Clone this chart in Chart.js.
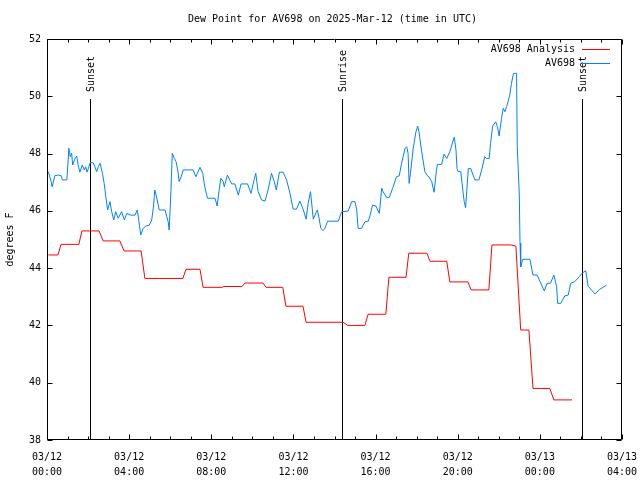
<!DOCTYPE html>
<html>
<head>
<meta charset="utf-8">
<script src="https://cdn.jsdelivr.net/npm/chart.js@4/dist/chart.umd.min.js"></script>
<style>
  body { margin: 0; background: #fff; }
  #wrap { width: 640px; height: 480px; }
</style>
</head>
<body>
<div id="wrap"><canvas id="dewChart"></canvas></div>
<script>
// times are minutes after 2025-03-12 00:00 UTC
var analysisMinutes = [4, 32, 41, 93, 102, 152, 164, 213, 225, 275,
  286, 397, 406, 447, 456, 511, 517, 570, 578, 631,
  640, 689, 698, 748, 757, 865, 879, 929, 938, 990,
  999, 1049, 1057, 1110, 1119, 1168, 1177, 1230, 1239, 1291,
  1300, 1355, 1370, 1384, 1408, 1420, 1469, 1481, 1534];
var analysisValues = [44.46, 44.46, 44.83, 44.83, 45.30, 45.30, 44.95, 44.95, 44.60, 44.60,
  43.64, 43.64, 43.96, 43.96, 43.33, 43.33, 43.36, 43.36, 43.48, 43.48,
  43.33, 43.33, 42.67, 42.67, 42.11, 42.11, 42.00, 42.00, 42.39, 42.39,
  43.68, 43.68, 44.52, 44.52, 44.24, 44.24, 43.52, 43.52, 43.24, 43.24,
  44.81, 44.81, 44.77, 41.84, 41.84, 39.80, 39.80, 39.40, 39.40];

var obsMinutes = [4, 12, 15, 23, 33, 41, 45, 58, 59, 64,
  68, 72, 75, 82, 87, 91, 96, 103, 109, 113,
  117, 121, 126, 135, 140, 145, 150, 155, 162, 167,
  172, 177, 181, 184, 189, 195, 201, 208, 218, 226,
  233, 245, 257, 264, 270, 274, 281, 289, 299, 306,
  311, 315, 320, 325, 328, 345, 350, 354, 357, 362,
  366, 372, 377, 382, 386, 392, 398, 427, 435, 447,
  455, 461, 469, 491, 497, 503, 508, 515, 518, 527,
  535, 540, 549, 559, 567, 586, 596, 605, 610, 617,
  627, 637, 646, 656, 664, 670, 679, 690, 700, 710,
  719, 729, 739, 749, 757, 763, 770, 778, 786, 790,
  795, 800, 807, 812, 820, 851, 861, 880, 890, 900,
  905, 909, 919, 929, 939, 944, 951, 961, 971, 978,
  982, 992, 1000, 1010, 1021, 1029, 1036, 1046, 1051, 1055,
  1058, 1062, 1070, 1078, 1083, 1087, 1094, 1104, 1112, 1116,
  1124, 1131, 1138, 1141, 1153, 1160, 1168, 1177, 1187, 1190,
  1195, 1198, 1201, 1209, 1216, 1219, 1223, 1227, 1231, 1238,
  1250, 1262, 1270, 1279, 1284, 1292, 1296, 1302, 1311, 1316,
  1321, 1328, 1333, 1338, 1343, 1347, 1352, 1357, 1363, 1372,
  1374, 1380, 1382, 1384, 1390, 1411, 1420, 1432, 1453, 1461,
  1471, 1481, 1489, 1492, 1501, 1513, 1523, 1530, 1542, 1555,
  1565, 1574, 1581, 1601, 1615, 1635];
var obsValues = [47.37, 47.02, 46.84, 47.23, 47.25, 47.23, 47.08, 47.08, 47.25, 48.18,
  47.89, 48.01, 47.60, 47.83, 47.91, 47.60, 47.35, 47.60, 47.43, 47.54,
  47.35, 47.48, 47.68, 47.68, 47.54, 47.37, 47.54, 47.66, 47.31, 46.96,
  46.49, 46.03, 46.20, 46.32, 45.97, 45.68, 45.97, 45.74, 45.97, 45.68,
  45.91, 45.85, 45.85, 46.03, 45.50, 45.16, 45.39, 45.47, 45.50, 45.68,
  46.14, 46.73, 46.49, 46.20, 46.03, 46.03, 45.79, 45.62, 45.33, 46.67,
  48.01, 47.83, 47.72, 47.43, 47.02, 47.19, 47.43, 47.43, 47.19, 47.52,
  47.31, 46.84, 46.44, 46.44, 46.17, 46.73, 47.14, 47.02, 46.84, 47.25,
  47.05, 46.94, 46.94, 46.55, 46.94, 46.94, 46.61, 47.08, 47.31, 46.67,
  46.38, 46.34, 46.73, 47.31, 47.02, 46.73, 47.35, 47.35, 47.08, 46.61,
  46.06, 46.06, 46.34, 46.03, 45.71, 46.26, 46.67, 45.71, 45.93, 46.03,
  45.74, 45.39, 45.31, 45.39, 45.64, 45.64, 45.97, 45.99, 46.32, 46.32,
  46.03, 45.39, 45.39, 45.62, 45.64, 45.85, 46.20, 46.17, 45.91, 46.79,
  46.67, 46.47, 46.47, 46.79, 47.19, 47.22, 47.66, 48.18, 48.24, 48.01,
  46.96, 47.31, 48.18, 48.76, 48.96, 48.76, 48.12, 47.37, 47.22, 47.19,
  47.02, 46.65, 47.45, 47.62, 47.62, 47.98, 47.83, 48.06, 48.47, 48.57,
  48.12, 47.48, 47.37, 47.37, 46.61, 46.32, 46.11, 46.79, 47.48, 47.48,
  47.08, 47.08, 47.43, 47.89, 47.83, 47.83, 48.36, 48.96, 49.11, 48.94,
  48.61, 49.23, 49.58, 49.46, 49.64, 49.81, 50.04, 50.45, 50.80, 50.80,
  48.24, 46.55, 44.87, 44.05, 44.31, 44.31, 43.76, 43.76, 43.20, 43.47,
  43.47, 43.76, 43.35, 42.77, 42.77, 43.03, 43.06, 43.47, 43.53, 43.70,
  43.84, 43.91, 43.37, 43.10, 43.26, 43.41];

var tickDates = ['03/12', '03/12', '03/12', '03/12', '03/12', '03/12', '03/13', '03/13'];
var tickTimes = ['00:00', '04:00', '08:00', '12:00', '16:00', '20:00', '00:00', '04:00'];

var sunMinutes = [126, 862, 1564];
var sunLabels = ['Sunset', 'Sunrise', 'Sunset'];

var MONO = '"DejaVu Sans Mono", "Liberation Mono", monospace';

function pairs(xs, ys) {
  return xs.map(function (x, i) { return { x: x, y: ys[i] }; });
}

function noScalePadding(s) {
  s.paddingLeft = 0;
  s.paddingRight = 0;
  s.paddingTop = 0;
  s.paddingBottom = 0;
}

// gnuplot look: box frame, inward ticks, sun markers, key in the top right
var gnuplotDecor = {
  id: 'gnuplotDecor',
  beforeDatasetsDraw: function (chart) {
    var ctx = chart.ctx, a = chart.chartArea, xs = chart.scales.x;
    ctx.save();
    ctx.strokeStyle = '#000';
    ctx.fillStyle = '#000';
    ctx.lineWidth = 1;
    ctx.font = '10px ' + MONO;
    sunMinutes.forEach(function (m, i) {
      var px = Math.round(xs.getPixelForValue(m)) + 0.5;
      ctx.beginPath();
      ctx.moveTo(px, a.top + 60);
      ctx.lineTo(px, a.bottom);
      ctx.stroke();
      ctx.save();
      ctx.translate(px + 1, a.top + 53);
      ctx.rotate(-Math.PI / 2);
      ctx.textAlign = 'left';
      ctx.textBaseline = 'middle';
      ctx.fillText(sunLabels[i], 0, 0);
      ctx.restore();
    });
    ctx.restore();
  },
  afterDatasetsDraw: function (chart) {
    var ctx = chart.ctx, a = chart.chartArea, xs = chart.scales.x, ys = chart.scales.y;
    var L = Math.round(a.left) + 0.5, R = Math.round(a.right) - 0.5;
    var T = Math.round(a.top) + 0.5, B = Math.round(a.bottom) - 0.5;
    ctx.save();
    ctx.strokeStyle = '#000';
    ctx.lineWidth = 1;
    ctx.beginPath();
    ctx.rect(L, T, R - L, B - T);
    for (var m = 0; m <= 1680; m += 60) {
      var px = Math.round(xs.getPixelForValue(m)) + 0.5;
      var len = (m % 240 === 0) ? 5 : 3;
      ctx.moveTo(px, B); ctx.lineTo(px, B - len);
      ctx.moveTo(px, T); ctx.lineTo(px, T + len);
    }
    for (var v = 38; v <= 52; v += 2) {
      var py = Math.round(ys.getPixelForValue(v)) + 0.5;
      ctx.moveTo(L, py); ctx.lineTo(L + 5, py);
      ctx.moveTo(R, py); ctx.lineTo(R - 5, py);
    }
    ctx.stroke();

    // title
    ctx.fillStyle = '#000';
    ctx.font = '10px ' + MONO;
    ctx.textAlign = 'center';
    ctx.textBaseline = 'middle';
    ctx.fillText('Dew Point for AV698 on 2025-Mar-12 (time in UTC)', (a.left + a.right) / 2 - 2, 19);

    // key
    ctx.textAlign = 'right';
    chart.data.datasets.forEach(function (ds, i) {
      var y = a.top + 10 + i * 14;
      ctx.fillStyle = '#000';
      ctx.fillText(ds.label, a.right - 47, y);
      ctx.strokeStyle = ds.borderColor;
      ctx.beginPath();
      ctx.moveTo(a.right - 40, Math.round(y) + 0.5);
      ctx.lineTo(a.right - 12, Math.round(y) + 0.5);
      ctx.stroke();
    });
    ctx.restore();
  }
};

new Chart(document.getElementById('dewChart').getContext('2d'), {
  type: 'line',
  data: {
    datasets: [{
      label: 'AV698 Analysis',
      data: pairs(analysisMinutes, analysisValues),
      borderColor: '#ff0000',
      borderWidth: 1,
      pointRadius: 0,
      tension: 0
    }, {
      label: 'AV698',
      data: pairs(obsMinutes, obsValues),
      borderColor: '#0080ff',
      borderWidth: 1,
      pointRadius: 0,
      tension: 0
    }]
  },
  options: {
    responsive: true,
    maintainAspectRatio: false,
    animation: false,
    layout: { autoPadding: false, padding: { top: 39, right: 18, left: 0, bottom: 0 } },
    plugins: {
      legend: { display: false },
      tooltip: { enabled: false },
      title: { display: false }
    },
    scales: {
      x: {
        type: 'linear',
        min: 0,
        max: 1680,
        grid: { display: false, drawTicks: false },
        border: { display: false },
        ticks: {
          stepSize: 240,
          autoSkip: false,
          maxRotation: 0,
          padding: 10,
          color: '#000',
          font: { family: MONO, size: 10, lineHeight: 1.5 },
          callback: function (v) {
            var i = Math.round(v / 240);
            return [tickDates[i], tickTimes[i]];
          }
        },
        afterFit: function (s) { s.height = 40; noScalePadding(s); }
      },
      y: {
        min: 38,
        max: 52,
        grid: { display: false, drawTicks: false },
        border: { display: false },
        ticks: {
          stepSize: 2,
          padding: 6,
          color: '#000',
          font: { family: MONO, size: 10 }
        },
        title: {
          display: true,
          text: 'degrees F',
          color: '#000',
          font: { family: MONO, size: 10 },
          padding: { top: 4, bottom: 4 }
        },
        afterFit: function (s) { s.width = 47; noScalePadding(s); }
      }
    }
  },
  plugins: [gnuplotDecor]
});
</script>
</body>
</html>
